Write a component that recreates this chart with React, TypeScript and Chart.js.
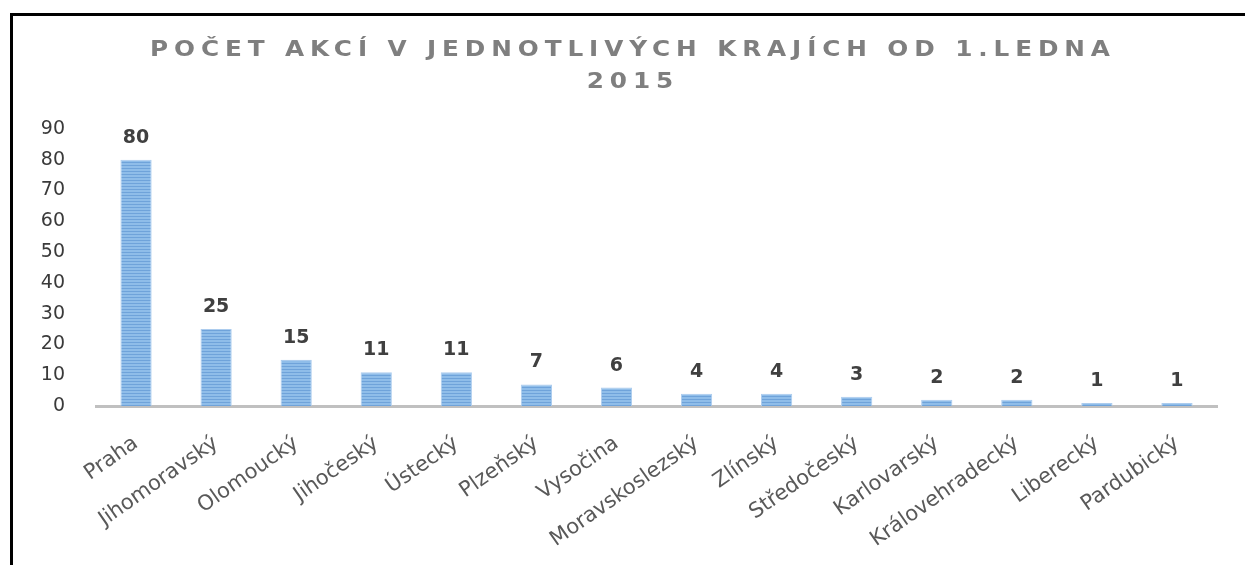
import { useEffect, useRef } from "react";
import { Chart, registerables } from "chart.js";

Chart.register(...registerables);

const categories = [
  "Praha",
  "Jihomoravský",
  "Olomoucký",
  "Jihočeský",
  "Ústecký",
  "Plzeňský",
  "Vysočina",
  "Moravskoslezský",
  "Zlínský",
  "Středočeský",
  "Karlovarský",
  "Královehradecký",
  "Liberecký",
  "Pardubický",
];
const values = [80, 25, 15, 11, 11, 7, 6, 4, 4, 3, 2, 2, 1, 1];
const yMin = 0;
const yMax = 90;
const yStep = 10;
const titleLines = ["POČET AKCÍ V JEDNOTLIVÝCH KRAJÍCH OD 1.LEDNA", "2015"];

const FONT = '"DejaVu Sans", Verdana, sans-serif';

function makePattern(): CanvasPattern | string {
  const c = document.createElement("canvas");
  c.width = 1;
  c.height = 3;
  const g = c.getContext("2d");
  if (!g) return "#7fb0e2";
  g.fillStyle = "#8fbde9";
  g.fillRect(0, 0, 1, 2);
  g.fillStyle = "#6fa3da";
  g.fillRect(0, 2, 1, 1);
  return g.createPattern(c, "repeat") || "#7fb0e2";
}

const titlePlugin = {
  id: "spacedTitle",
  afterDraw(chart: any) {
    const ctx = chart.ctx as CanvasRenderingContext2D;
    ctx.save();
    ctx.font = `bold 21px ${FONT}`;
    (ctx as any).letterSpacing = "5px";
    ctx.fillStyle = "#7f7f7f";
    ctx.textAlign = "left";
    ctx.textBaseline = "middle";
    const targetWidth = 960;
    const w0 = ctx.measureText(titleLines[0]).width - 5;
    const sx = targetWidth / w0;
    const cx = chart.width / 2 + 1;
    titleLines.forEach((line, i) => {
      const w = ctx.measureText(line).width - 5;
      ctx.save();
      ctx.translate(cx - (w * sx) / 2, 35 + i * 32);
      ctx.scale(sx, 1);
      ctx.fillText(line, 0, 0);
      ctx.restore();
    });
    ctx.restore();
  },
};

const valueLabelPlugin = {
  id: "valueLabels",
  afterDatasetsDraw(chart: any) {
    const ctx = chart.ctx as CanvasRenderingContext2D;
    const meta = chart.getDatasetMeta(0);
    ctx.save();
    ctx.font = `bold 19px ${FONT}`;
    ctx.fillStyle = "#404040";
    ctx.textAlign = "center";
    ctx.textBaseline = "alphabetic";
    meta.data.forEach((bar: any, i: number) => {
      ctx.fillText(String(values[i]), bar.x, bar.y - 17);
    });
    ctx.restore();
  },
};

export default function App() {
  const ref = useRef<HTMLCanvasElement | null>(null);

  useEffect(() => {
    if (!ref.current) return;
    const chart = new Chart(ref.current, {
      type: "bar",
      data: {
        labels: categories,
        datasets: [
          {
            data: values,
            backgroundColor: makePattern() as any,
            borderColor: "#acccee",
            borderWidth: 1,
            barPercentage: 0.39,
            categoryPercentage: 1,
          },
        ],
      },
      options: {
        animation: false,
        responsive: false,
        maintainAspectRatio: false,
        layout: { padding: { top: 113, right: 28, left: 0, bottom: 0 } },
        plugins: {
          legend: { display: false },
          title: { display: false },
          tooltip: { enabled: false },
        },
        scales: {
          x: {
            grid: { display: false, drawTicks: false },
            border: { display: true, color: "#c0c0c0", width: 3 },
            ticks: {
              minRotation: 35,
              maxRotation: 35,
              padding: 25,
              color: "#595959",
              font: { family: FONT, size: 21 },
              autoSkip: false,
            },
            afterFit(scale: any) {
              scale.height = 159;
            },
          },
          y: {
            min: yMin,
            max: yMax,
            grid: { display: false, drawTicks: false },
            border: { display: false },
            ticks: {
              stepSize: yStep,
              padding: 31,
              color: "#3a3a3a",
              font: { family: FONT, size: 19 },
            },
            afterFit(scale: any) {
              scale.width = 83;
            },
          },
        },
      },
      plugins: [titlePlugin, valueLabelPlugin],
    });
    return () => chart.destroy();
  }, []);

  return (
    <div
      style={{
        position: "absolute",
        left: 10,
        top: 13,
        width: 1235,
        height: 552,
        borderLeft: "3px solid #000",
        borderTop: "3px solid #000",
        background: "#fff",
        overflow: "hidden",
      }}
    >
      <canvas ref={ref} width={1232} height={549} style={{ display: "block" }} />
    </div>
  );
}
